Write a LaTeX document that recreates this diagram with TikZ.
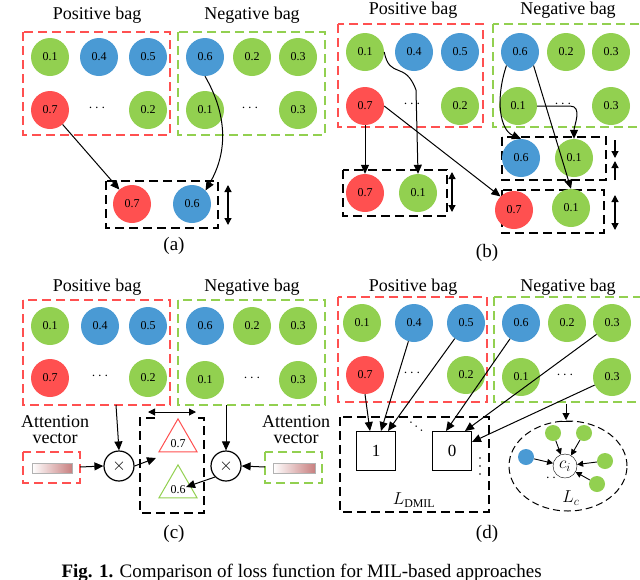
\documentclass[tikz,border=0pt]{standalone}
\usepackage{fontspec}
\setmainfont{Liberation Serif}
\usetikzlibrary{arrows.meta,shapes.geometric}
\definecolor{cr}{HTML}{FF5050}
\definecolor{cb}{HTML}{4A9AD4}
\definecolor{cg}{HTML}{92D050}
\definecolor{pk}{HTML}{C88080}
\begin{document}
\begin{tikzpicture}[x=1pt,y=-1pt,
 ball/.style={circle,minimum size=38pt,inner sep=0,font=\fontsize{12}{12}\selectfont},
 R/.style={ball,fill=cr},B/.style={ball,fill=cb},G/.style={ball,fill=cg},
 sm/.style={circle,minimum size=16pt,inner sep=0},
 dots/.style={font=\fontsize{14}{14}\selectfont},
 title/.style={font=\fontsize{18}{18}\selectfont},
 lab/.style={font=\fontsize{19}{19}\selectfont},
 rbox/.style={draw=cr,line width=1.6pt,dash pattern=on 9pt off 5pt},
 gbox/.style={draw=cg,line width=1.6pt,dash pattern=on 9pt off 5pt},
 kbox/.style={draw=black,line width=1.6pt,dash pattern=on 9pt off 5pt},
 arr/.style={-{Triangle[length=9pt,width=8pt]},line width=1pt},
 darr/.style={{Triangle[length=7pt,width=7pt]}-{Triangle[length=7pt,width=7pt]},line width=1.3pt}]
\useasboundingbox (0,0) rectangle (640,579);
\fill[white] (0,0) rectangle (640,579);
% ================= (a)
\begin{scope}
\node[title] (at1) at (97,15) {Positive bag};
\node[title] (at2) at (252,15) {Negative bag};
\draw[rbox] (23,32) rectangle (170,135);
\draw[gbox] (178,32) rectangle (325,135);
\node[G] (a1) at (50,57) {0.1}; \node[B] (a2) at (99,57) {0.4}; \node[B] (a3) at (148,57) {0.5};
\node[B] (a4) at (205,57) {0.6}; \node[G] (a5) at (252,57) {0.2}; \node[G] (a6) at (298,57) {0.3};
\node[R] (a7) at (50,110) {0.7}; \node[dots] (ad1) at (97,108) {$\cdots$}; \node[G] (a8) at (148,110) {0.2};
\node[G] (a9) at (205,110) {0.1}; \node[dots] (ad2) at (250,108) {$\cdots$}; \node[G] (a10) at (298,110) {0.3};
\draw[kbox] (106,181) rectangle (218,228);
\node[R] (ab1) at (132,204) {0.7}; \node[B] (ab2) at (192,204) {0.6};
\coordinate (ada) at (228,185); \coordinate (adb) at (228,225);
\draw[darr] (ada) -- (adb);
\draw[arr] (a7) -- (ab1);
\draw[arr] (a4.south) to[out=-60,in=60] (ab2.north east);
\node[lab] (al) at (174,246) {(a)};
\end{scope}
% ================= (b)
\begin{scope}
\node[title] (bt1) at (413,10) {Positive bag};
\node[title] (bt2) at (568,10) {Negative bag};
\draw[rbox] (338,24) rectangle (483,127);
\draw[gbox] (493,24) rectangle (645,127);
\node[G] (b1) at (365,52) {0.1}; \node[B] (b2) at (414,52) {0.4}; \node[B] (b3) at (460,52) {0.5};
\node[B] (b4) at (520,52) {0.6}; \node[G] (b5) at (566,52) {0.2}; \node[G] (b6) at (611,52) {0.3};
\node[R] (b7) at (365,106) {0.7}; \node[dots] (bd1) at (412,104) {$\cdots$}; \node[G] (b8) at (460,106) {0.2};
\node[G] (b9) at (518,106) {0.1}; \node[dots] (bd2) at (563,104) {$\cdots$}; \node[G] (b10) at (611,106) {0.3};
\draw[kbox] (343,170) rectangle (447,216);
\node[R] (bl1) at (365,193) {0.7}; \node[G] (bl2) at (418,193) {0.1};
\draw[darr] (452,172) -- (452,212);
\draw[kbox] (502,137) rectangle (606,180);
\node[B] (bu1) at (521,158) {0.6}; \node[G] (bu2) at (574,158) {0.1};
\draw[kbox] (502,190) rectangle (604,233);
\node[R] (bw1) at (514,210) {0.7}; \node[G] (bw2) at (571,208) {0.1};
\draw[arr,-{Triangle[length=7pt,width=7pt]},line width=1.3pt] (615,140) -- (615,158);
\draw[arr,-{Triangle[length=7pt,width=7pt]},line width=1.3pt] (615,180) -- (615,161);
\draw[darr] (615,195) -- (615,230);
\draw[arr] (b1.east) .. controls (390,80) and (405,60) .. (416,90) -- (bl2.north);
\draw[arr] (b7.south) -- (bl1.north);
\draw[arr] (b7.east) -- (bw1.north west);
\draw[arr] (b4.south west) .. controls (495,100) and (500,130) .. (bu1.north);
\draw[arr] (b4.south east) -- (bw2.north);
\draw[arr] (b9.east) -- (570,106) to[out=0,in=90] (bu2.north);
\node[lab] (bl) at (487,253) {(b)};
\end{scope}
% ================= (c)
\begin{scope}
\node[title] (ct1) at (97,287) {Positive bag};
\node[title] (ct2) at (252,287) {Negative bag};
\draw[rbox] (23,300) rectangle (170,405);
\draw[gbox] (178,300) rectangle (325,405);
\node[G] (c1) at (50,326) {0.1}; \node[B] (c2) at (100,326) {0.4}; \node[B] (c3) at (148,326) {0.5};
\node[B] (c4) at (205,326) {0.6}; \node[G] (c5) at (252,326) {0.2}; \node[G] (c6) at (298,326) {0.3};
\node[R] (c7) at (50,378) {0.7}; \node[dots] (cd1) at (100,376) {$\cdots$}; \node[G] (c8) at (148,378) {0.2};
\node[G] (c9) at (205,380) {0.1}; \node[dots] (cd2) at (252,378) {$\cdots$}; \node[G] (c10) at (298,380) {0.3};
\node[title,align=center] (cal) at (55,430) {Attention\\[-2pt]vector};
\node[title,align=center] (car) at (296,430) {Attention\\[-2pt]vector};
\draw[rbox] (23,452) rectangle (80,483);
\draw[gbox] (265,452) rectangle (322,483);
\shade[left color=white,right color=pk,draw=gray!60] (32,463) rectangle (72,473);
\shade[left color=white,right color=pk,draw=gray!60] (273,463) rectangle (315,473);
\coordinate (cbl) at (80,467); \coordinate (cbr) at (265,467);
\node[circle,draw,line width=1.2pt,minimum size=30pt,inner sep=0,font=\fontsize{16}{16}\selectfont] (m1) at (119,466) {$\times$};
\node[circle,draw,line width=1.2pt,minimum size=30pt,inner sep=0,font=\fontsize{16}{16}\selectfont] (m2) at (226,466) {$\times$};
\draw[kbox] (155,418) -- (140,418) -- (140,513) -- (204,513) -- (204,418) -- (198,418);
\node[isosceles triangle,shape border rotate=90,isosceles triangle apex angle=60,draw=cr,line width=1pt,minimum width=38pt,inner sep=1pt,font=\fontsize{12}{12}\selectfont] (t1) at (178,444) {0.7};
\node[isosceles triangle,shape border rotate=90,isosceles triangle apex angle=60,draw=cg,line width=1pt,minimum width=38pt,inner sep=1pt,font=\fontsize{12}{12}\selectfont] (t2) at (178,490) {0.6};
\draw[darr,line width=1pt] (148,412) -- (196,412);
\coordinate (crb) at (116,405); \coordinate (cgb) at (226,405);
\draw[arr] (crb) -- (m1.north);
\draw[arr] (cgb) -- (m2.north);
\draw[arr] (cbl) -- (m1.west);
\draw[arr] (cbr) -- (m2.east);
\draw[arr] (m1.east) -- (156,458);
\draw[arr] (m2.south west) -- (186,487);
\node[lab] (cl) at (174,534) {(c)};
\end{scope}
% ================= (d)
\begin{scope}
\node[title] (dt1) at (413,287) {Positive bag};
\node[title] (dt2) at (568,287) {Negative bag};
\draw[rbox] (338,297) rectangle (487,402);
\draw[gbox] (494,297) rectangle (645,402);
\node[G] (d1) at (362,323) {0.1}; \node[B] (d2) at (414,323) {0.4}; \node[B] (d3) at (466,323) {0.5};
\node[B] (d4) at (521,323) {0.6}; \node[G] (d5) at (567,323) {0.2}; \node[G] (d6) at (612,323) {0.3};
\node[R] (d7) at (365,375) {0.7}; \node[dots] (dd1) at (412,373) {$\cdots$}; \node[G] (d8) at (466,375) {0.2};
\node[G] (d9) at (521,377) {0.1}; \node[dots] (dd2) at (565,375) {$\cdots$}; \node[G] (d10) at (612,377) {0.3};
\draw[kbox] (340,417) rectangle (489,512);
\node[draw,line width=1pt,minimum size=39pt,inner sep=0,font=\fontsize{17}{17}\selectfont] (s1) at (376,451) {1};
\node[draw,line width=1pt,minimum size=39pt,inner sep=0,font=\fontsize{17}{17}\selectfont] (s0) at (452,451) {0};
\node[dots,rotate=-35] (dd3) at (416,427) {$\cdots$};
\foreach \yy in {458,466,474} \fill (480,\yy) circle (0.9pt);
\node[font=\fontsize{17}{17}\selectfont] (ldm) at (414,500) {$L_{\mathrm{DMIL}}$};
\draw[arr] (d7.south) -- (370,431);
\draw[arr] (d2) -- (381,431);
\draw[arr] (d3) -- (388,431);
\draw[arr] (d4) -- (446,431);
\draw[arr] (d6) -- (465,431);
\draw[arr] (d10) -- (472,442);
\draw[dash pattern=on 7pt off 4pt,line width=1pt] (568,466) ellipse (59pt and 45pt);
\node[circle,draw,fill=white,minimum size=24pt,inner sep=0,font=\fontsize{17}{17}\selectfont] (ci) at (565,466) {$c_i$};
\node[sm,fill=cg] (e1) at (553,433) {}; \node[sm,fill=cg] (e2) at (584,433) {};
\node[sm,fill=cg] (e3) at (605,461) {}; \node[sm,fill=cg] (e4) at (597,484) {};
\node[sm,fill=cb] (e5) at (526,457) {};
\foreach \e in {e1,e2,e3,e4,e5} \draw[arr,line width=0.9pt,-{Triangle[length=6pt,width=6pt]}] (\e) -- (ci);
\node[dots] (dd5) at (551,478) {$\cdot\,\cdot$};
\node[font=\fontsize{17}{17}\selectfont] (lc) at (571,498) {$L_c$};
\coordinate (lt) at (566,404); \coordinate (lb) at (566,420);
\draw[arr,line width=1pt,-{Triangle[length=7pt,width=7pt]}] (lt) -- (lb);
\draw[line width=1pt] (560,421) -- (572,421);
\node[lab] (dl) at (487,534) {(d)};
\end{scope}
\node[font=\fontsize{19}{19}\selectfont,anchor=base west] (cap) at (58,577) {\textbf{Fig. 1.} Comparison of loss function for MIL-based approaches};
\end{tikzpicture}
\end{document}
